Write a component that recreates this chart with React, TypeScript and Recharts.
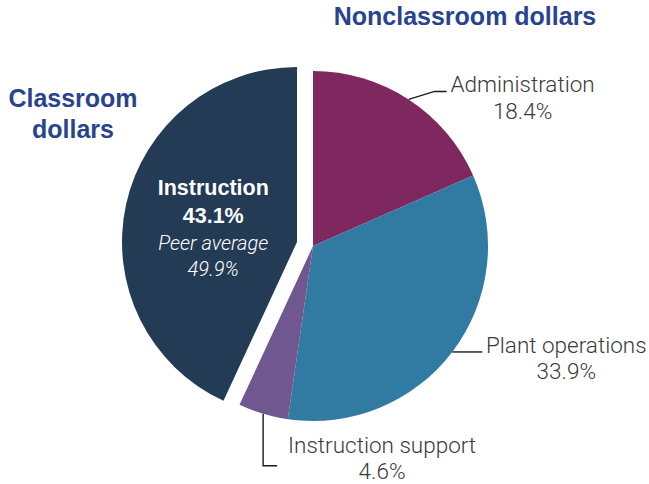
import React from 'react';
import { PieChart, Pie, Cell } from 'recharts';

const slices = ['Administration', 'Plant operations', 'Instruction support', 'Instruction'];
const shares = [18.4, 33.9, 4.6, 43.1];
const peerAverage = 49.9;
const sliceColors = ['#7F2860', '#317AA2', '#70578F', '#233B55'];
const classroomSlice = 'Instruction';

const data = slices.map((name, i) => ({ name, value: shares[i] }));

const RAD = Math.PI / 180;
const lightFont = 'Roboto, "Liberation Sans", sans-serif';
const boldFont = '"Liberation Sans", Arial, sans-serif';
const titleColor = '#29448F';
const labelColor = '#3a3a3a';

// leader line + text placement for the outside labels, relative to the slice edge point
const outsideLayout: Record<string, { path: number[][]; tx: number; ty: number }> = {
    Administration: { path: [[0, 0], [26, -8], [38, -8]], tx: 114, ty: -7 },
    'Plant operations': { path: [[0, 0], [30, 0]], tx: 114, ty: 1 },
    'Instruction support': { path: [[0, 0], [0, 52], [14, 52]], tx: 119, ty: 39 },
};

const outsideLabel = (props: any) => {
    const { cx, cy, midAngle, outerRadius, name, value } = props;
    const layout = outsideLayout[name];
    if (!layout) return <g />;
    const x = cx + outerRadius * Math.cos(-midAngle * RAD);
    const y = cy + outerRadius * Math.sin(-midAngle * RAD);
    const d = layout.path.map((p, i) => `${i === 0 ? 'M' : 'L'}${x + p[0]},${y + p[1]}`).join(' ');
    return (
        <g>
            <path d={d} stroke="#1a1a1a" strokeWidth={1.4} fill="none" />
            <text x={x + layout.tx} y={y + layout.ty} textAnchor="middle" fill={labelColor}
                style={{ fontFamily: lightFont, fontWeight: 300, fontSize: 22.5 }}>
                <tspan x={x + layout.tx}>{name}</tspan>
                <tspan x={x + layout.tx} dy={26.5}>{value.toFixed(1)}%</tspan>
            </text>
        </g>
    );
};

const insideLabel = (props: any) => {
    const { cx, cy, midAngle, outerRadius, name, value } = props;
    if (name !== classroomSlice) return <g />;
    const x = cx + outerRadius * 0.49 * Math.cos(-midAngle * RAD);
    const y = cy + outerRadius * 0.49 * Math.sin(-midAngle * RAD);
    return (
        <g fill="#fff" textAnchor="middle">
            <text x={x} y={y - 29} style={{ fontFamily: boldFont, fontWeight: 700, fontSize: 21.5 }}>{name}</text>
            <text x={x} y={y - 1} style={{ fontFamily: boldFont, fontWeight: 700, fontSize: 21.5 }}>{value.toFixed(1)}%</text>
            <text x={x} y={y + 26} style={{ fontFamily: lightFont, fontWeight: 300, fontStyle: 'italic', fontSize: 20 }}>Peer average</text>
            <text x={x} y={y + 52} style={{ fontFamily: lightFont, fontWeight: 300, fontStyle: 'italic', fontSize: 20 }}>{peerAverage.toFixed(1)}%</text>
        </g>
    );
};

export default function App() {
    return (
        <div style={{ position: 'absolute', left: 0, top: 0, width: 649, height: 484, background: '#fff' }}>
            <PieChart width={649} height={484} margin={{ top: 0, right: 0, bottom: 0, left: 0 }}>
                <Pie data={data} dataKey="value" nameKey="name" cx={313} cy={246} outerRadius={175}
                    startAngle={90} endAngle={-270} stroke="none" isAnimationActive={false}
                    label={outsideLabel} labelLine={false}>
                    {data.map((d, i) => (
                        <Cell key={d.name} fill={d.name === classroomSlice ? 'transparent' : sliceColors[i]} />
                    ))}
                </Pie>
                {/* exploded classroom slice */}
                <Pie data={data} dataKey="value" nameKey="name" cx={297} cy={242} outerRadius={175}
                    startAngle={90} endAngle={-270} stroke="none" isAnimationActive={false}
                    label={insideLabel} labelLine={false}>
                    {data.map((d, i) => (
                        <Cell key={d.name} fill={d.name === classroomSlice ? sliceColors[i] : 'transparent'} />
                    ))}
                </Pie>
            </PieChart>
            <svg width={649} height={484} style={{ position: 'absolute', left: 0, top: 0, pointerEvents: 'none' }}>
                <g fill={titleColor} style={{ fontFamily: boldFont, fontWeight: 700, fontSize: 25 }}>
                    <text x={465} y={25} textAnchor="middle">Nonclassroom dollars</text>
                    <text x={73} y={107} textAnchor="middle">Classroom</text>
                    <text x={73} y={138} textAnchor="middle">dollars</text>
                </g>
            </svg>
        </div>
    );
}
